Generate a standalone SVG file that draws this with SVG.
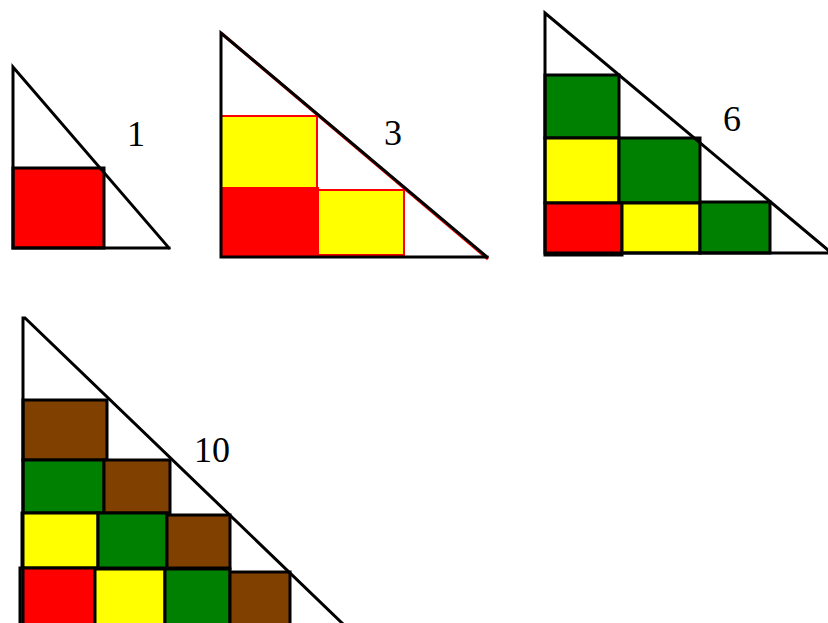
<svg xmlns="http://www.w3.org/2000/svg" width="828" height="623" viewBox="0 0 828 623">
<style>
  .ln { stroke: #000; stroke-width: 3; fill: none; stroke-linecap: square; }
  .sq { stroke: #000; stroke-width: 3; }
  .sqr { stroke: #FF0000; stroke-width: 2; }
  .red { fill: #FF0000; }
  .yel { fill: #FFFF00; }
  .grn { fill: #008000; }
  .brn { fill: #804000; }
  .lbl { font-family: "Liberation Serif", "Times New Roman", serif; font-size: 36px; fill: #000; text-anchor: middle; }
</style>
<rect width="828" height="623" fill="#FFFFFF"/>

<g id="triangle-1">
  <rect class="sq red" x="13" y="168" width="91" height="80"/>
  <polyline class="ln" points="169,248 13,248 13,67 169,248"/>
  <text class="lbl" x="136" y="146">1</text>
</g>

<g id="triangle-3">
  <rect class="sqr red" x="221" y="188" width="97" height="67"/>
  <rect class="sqr yel" x="221" y="116" width="96" height="72"/>
  <rect class="sqr yel" x="318" y="190" width="86" height="65"/>
  <line x1="221" y1="33" x2="488" y2="259" stroke="#FF0000" stroke-width="3"/>
  <polyline class="ln" points="487,257 221,257 221,33 487,257"/>
  <text class="lbl" x="393" y="145">3</text>
</g>

<g id="triangle-6">
  <rect class="sq grn" x="545" y="75" width="74" height="63"/>
  <rect class="sq yel" x="545" y="138" width="74" height="65"/>
  <rect class="sq grn" x="619" y="138" width="81" height="65"/>
  <rect class="sq red" x="545" y="203" width="77" height="52"/>
  <rect class="sq yel" x="622" y="203" width="78" height="50"/>
  <rect class="sq grn" x="700" y="202" width="70" height="51"/>
  <polyline class="ln" points="828,253 545,253 545,13 828,250"/>
  <text class="lbl" x="732" y="131">6</text>
</g>

<g id="triangle-10">
  <rect class="sq brn" x="23" y="400" width="84" height="60"/>
  <rect class="sq grn" x="23" y="460" width="81" height="53"/>
  <rect class="sq brn" x="104" y="460" width="66" height="53"/>
  <rect class="sq yel" x="22" y="513" width="76" height="55"/>
  <rect class="sq grn" x="98" y="513" width="69" height="55"/>
  <rect class="sq brn" x="167" y="515" width="63" height="53"/>
  <rect class="sq red" x="20" y="568" width="75" height="60"/>
  <rect class="sq yel" x="95" y="569" width="70" height="59"/>
  <rect class="sq grn" x="165" y="569" width="65" height="59"/>
  <rect class="sq brn" x="230" y="572" width="60" height="56"/>
  <polyline class="ln" points="23,628 23,318 25,318 342,623"/>
  <text class="lbl" x="212" y="462">10</text>
</g>
</svg>
